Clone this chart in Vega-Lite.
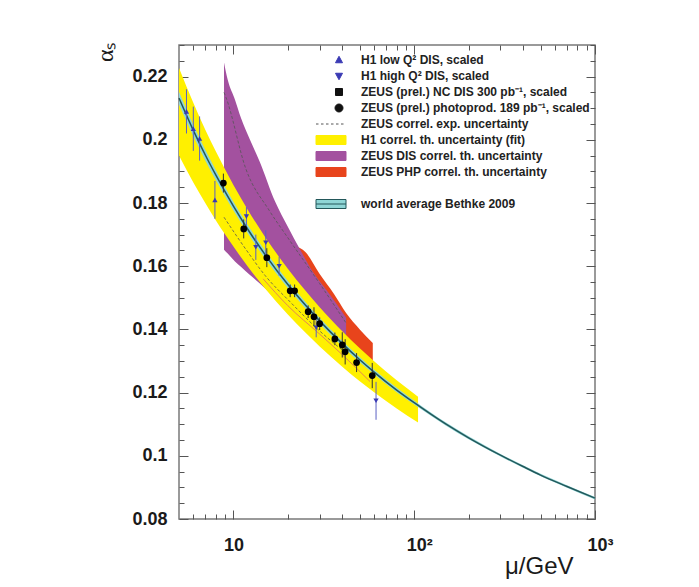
{
  "$schema": "https://vega.github.io/schema/vega-lite/v6.json",
  "width": 416,
  "height": 474,
  "autosize": {"type": "none"},
  "padding": {"left": 179, "top": 45, "right": 104, "bottom": 68},
  "background": "white",
  "config": {
    "view": {"stroke": "#7a7a7a", "strokeWidth": 1.5},
    "axis": {"domain": false, "grid": false, "tickColor": "#555555", "tickWidth": 1, "labelFont": "Liberation Sans", "labelFontWeight": "bold", "labelFontSize": 18, "labelColor": "#1a1a1a", "titleFontWeight": "normal", "titleColor": "#1a1a1a", "labelOverlap": false, "labelFlush": false, "labelBound": false}
  },
  "datasets": {
    "wa": [
      {"mu": 5, "a": 0.2152, "a2": 0.2112, "c": 0.2132},
      {"mu": 6, "a": 0.2048, "a2": 0.2012, "c": 0.2030},
      {"mu": 7, "a": 0.1968, "a2": 0.1934, "c": 0.1951},
      {"mu": 8, "a": 0.1904, "a2": 0.1872, "c": 0.1888},
      {"mu": 10, "a": 0.1804, "a2": 0.1776, "c": 0.1790},
      {"mu": 12, "a": 0.1730, "a2": 0.1704, "c": 0.1717},
      {"mu": 15, "a": 0.1648, "a2": 0.1624, "c": 0.1636},
      {"mu": 20, "a": 0.1553, "a2": 0.1531, "c": 0.1542},
      {"mu": 25, "a": 0.1487, "a2": 0.1467, "c": 0.1477},
      {"mu": 30, "a": 0.1436, "a2": 0.1418, "c": 0.1427},
      {"mu": 40, "a": 0.1363, "a2": 0.1347, "c": 0.1355},
      {"mu": 50, "a": 0.1312, "a2": 0.1296, "c": 0.1304},
      {"mu": 60, "a": 0.1272, "a2": 0.1258, "c": 0.1265},
      {"mu": 80, "a": 0.1215, "a2": 0.1201, "c": 0.1208},
      {"mu": 100, "a": 0.1174, "a2": 0.1162, "c": 0.1168},
      {"mu": 150, "a": 0.1105, "a2": 0.1095, "c": 0.1100},
      {"mu": 200, "a": 0.1062, "a2": 0.1052, "c": 0.1057},
      {"mu": 300, "a": 0.1006, "a2": 0.0998, "c": 0.1002},
      {"mu": 400, "a": 0.0970, "a2": 0.0962, "c": 0.0966},
      {"mu": 500, "a": 0.0943, "a2": 0.0935, "c": 0.0939},
      {"mu": 700, "a": 0.0907, "a2": 0.0899, "c": 0.0903},
      {"mu": 1000, "a": 0.0870, "a2": 0.0862, "c": 0.0866}
    ],
    "yellow": [
      {"mu": 5, "a": 0.2227, "a2": 0.1950},
      {"mu": 6, "a": 0.2117, "a2": 0.1865},
      {"mu": 7, "a": 0.2031, "a2": 0.1799},
      {"mu": 8, "a": 0.1963, "a2": 0.1745},
      {"mu": 9, "a": 0.1906, "a2": 0.1700},
      {"mu": 10, "a": 0.1857, "a2": 0.1662},
      {"mu": 12, "a": 0.1779, "a2": 0.1599},
      {"mu": 15, "a": 0.1692, "a2": 0.1529},
      {"mu": 20, "a": 0.1592, "a2": 0.1447},
      {"mu": 25, "a": 0.1523, "a2": 0.1390},
      {"mu": 30, "a": 0.1470, "a2": 0.1346},
      {"mu": 40, "a": 0.1394, "a2": 0.1282},
      {"mu": 50, "a": 0.1340, "a2": 0.1236},
      {"mu": 60, "a": 0.1299, "a2": 0.1201},
      {"mu": 80, "a": 0.1239, "a2": 0.1150},
      {"mu": 105, "a": 0.1187, "a2": 0.1105}
    ],
    "purple": [
      {"mu": 8.87, "a": 0.2245, "a2": 0.1652},
      {"mu": 9.3, "a": 0.2190, "a2": 0.1640},
      {"mu": 10.2, "a": 0.2127, "a2": 0.1615},
      {"mu": 11, "a": 0.2070, "a2": 0.1598},
      {"mu": 12.35, "a": 0.2000, "a2": 0.1572},
      {"mu": 14, "a": 0.1930, "a2": 0.1545},
      {"mu": 17, "a": 0.1805, "a2": 0.1500},
      {"mu": 20, "a": 0.1725, "a2": 0.1465},
      {"mu": 23.4, "a": 0.1652, "a2": 0.1430},
      {"mu": 28, "a": 0.1575, "a2": 0.1395},
      {"mu": 34.2, "a": 0.1510, "a2": 0.1360},
      {"mu": 42, "a": 0.1437, "a2": 0.1325}
    ],
    "red": [
      {"mu": 22, "a": 0.1665, "a2": 0.1500},
      {"mu": 25, "a": 0.1645, "a2": 0.1470},
      {"mu": 30, "a": 0.1575, "a2": 0.1410},
      {"mu": 36, "a": 0.1512, "a2": 0.1380},
      {"mu": 42, "a": 0.1452, "a2": 0.1360},
      {"mu": 50, "a": 0.1400, "a2": 0.1320},
      {"mu": 59, "a": 0.1357, "a2": 0.1290}
    ],
    "lines": [
      {"g": "up", "mu": 8.87, "a": 0.2150},
      {"g": "up", "mu": 9.1, "a": 0.2134},
      {"g": "up", "mu": 11.7, "a": 0.1909},
      {"g": "up", "mu": 15.8, "a": 0.1776},
      {"g": "up", "mu": 20, "a": 0.1690},
      {"g": "up", "mu": 30, "a": 0.1545},
      {"g": "up", "mu": 42, "a": 0.1420},
      {"g": "low", "mu": 8.87, "a": 0.1755},
      {"g": "low", "mu": 12, "a": 0.1645},
      {"g": "low", "mu": 15, "a": 0.1570},
      {"g": "low", "mu": 20.6, "a": 0.1487},
      {"g": "low", "mu": 30, "a": 0.1395},
      {"g": "low", "mu": 42, "a": 0.1325},
      {"g": "or", "mu": 14.6, "a": 0.1560},
      {"g": "or", "mu": 20, "a": 0.1475},
      {"g": "or", "mu": 30, "a": 0.1385},
      {"g": "or", "mu": 40, "a": 0.1320},
      {"g": "or", "mu": 57, "a": 0.1235}
    ],
    "h1": [
      {"q": "low", "mu": 5.5, "a": 0.2090, "lo": 0.2020, "hi": 0.2160},
      {"q": "low", "mu": 6.0, "a": 0.2035, "lo": 0.1965, "hi": 0.2105},
      {"q": "low", "mu": 6.5, "a": 0.2004, "lo": 0.1934, "hi": 0.2074},
      {"q": "low", "mu": 7.9, "a": 0.1810, "lo": 0.1750, "hi": 0.1870},
      {"q": "high", "mu": 11.8, "a": 0.1757, "lo": 0.1727, "hi": 0.1787},
      {"q": "high", "mu": 13.3, "a": 0.1660, "lo": 0.1620, "hi": 0.1700},
      {"q": "high", "mu": 15.1, "a": 0.1674, "lo": 0.1634, "hi": 0.1714},
      {"q": "high", "mu": 17.9, "a": 0.1600, "lo": 0.1570, "hi": 0.1630},
      {"q": "high", "mu": 28.7, "a": 0.1405, "lo": 0.1375, "hi": 0.1435},
      {"q": "high", "mu": 61.5, "a": 0.1174, "lo": 0.1114, "hi": 0.1234}
    ],
    "zeus": [
      {"mu": 8.8, "a": 0.1863, "lo": 0.1833, "hi": 0.1893},
      {"mu": 11.4, "a": 0.1718, "lo": 0.1688, "hi": 0.1748},
      {"mu": 15.3, "a": 0.1627, "lo": 0.1597, "hi": 0.1657},
      {"mu": 20.6, "a": 0.1522, "lo": 0.1502, "hi": 0.1542},
      {"mu": 21.8, "a": 0.1522, "lo": 0.1502, "hi": 0.1542},
      {"mu": 25.9, "a": 0.1456, "lo": 0.1436, "hi": 0.1476},
      {"mu": 27.9, "a": 0.1440, "lo": 0.1410, "hi": 0.1470},
      {"mu": 30.0, "a": 0.1418, "lo": 0.1398, "hi": 0.1438},
      {"mu": 36.4, "a": 0.1370, "lo": 0.1350, "hi": 0.1390},
      {"mu": 40.0, "a": 0.1351, "lo": 0.1311, "hi": 0.1391},
      {"mu": 41.5, "a": 0.1329, "lo": 0.1289, "hi": 0.1369},
      {"mu": 48.0, "a": 0.1295, "lo": 0.1265, "hi": 0.1325},
      {"mu": 58.6, "a": 0.1254, "lo": 0.1214, "hi": 0.1294}
    ],
    "legend": [
      {"entry": "H1 low Q² DIS, scaled"},
      {"entry": "H1 high Q² DIS, scaled"},
      {"entry": "ZEUS (prel.) NC DIS 300 pb⁻¹, scaled"},
      {"entry": "ZEUS (prel.) photoprod. 189 pb⁻¹, scaled"},
      {"entry": "ZEUS correl. exp. uncertainty"},
      {"entry": "H1 correl. th. uncertainty (fit)"},
      {"entry": "ZEUS DIS correl. th. uncertainty"},
      {"entry": "ZEUS PHP correl. th. uncertainty"},
      {"entry": " "},
      {"entry": "world average Bethke 2009"}
    ]
  },
  "layer": [
    {
      "data": {"name": "red"},
      "mark": {"type": "area", "color": "#e8441c", "interpolate": "monotone"},
      "encoding": {
        "x": {"field": "mu", "type": "quantitative", "scale": {"type": "log", "domain": [5, 1000], "nice": false},
          "axis": {"orient": "bottom", "values": [6, 7, 8, 9, 10, 20, 30, 40, 50, 60, 70, 80, 90, 100, 200, 300, 400, 500, 600, 700, 800, 900, 1000],
            "tickSize": {"condition": {"test": "datum.value == 10 || datum.value == 100 || datum.value == 1000", "value": -9}, "value": -5},
            "labelOffset": {"condition": {"test": "datum.value >= 100", "value": 5}, "value": 0},
            "labelExpr": "datum.value == 10 ? '10' : datum.value == 100 ? '10²' : datum.value == 1000 ? '10³' : ''",
            "labelPadding": 26, "title": "μ/GeV", "titleFont": "Liberation Sans", "titleFontSize": 24,
            "titleX": 394, "titleY": 54, "titleAlign": "right", "titleBaseline": "alphabetic"}},
        "y": {"field": "a", "type": "quantitative", "scale": {"domain": [0.08, 0.23], "nice": false, "zero": false},
          "axis": {"orient": "left", "values": [0.08, 0.085, 0.09, 0.095, 0.1, 0.105, 0.11, 0.115, 0.12, 0.125, 0.13, 0.135, 0.14, 0.145, 0.15, 0.155, 0.16, 0.165, 0.17, 0.175, 0.18, 0.185, 0.19, 0.195, 0.2, 0.205, 0.21, 0.215, 0.22, 0.225, 0.23],
            "tickSize": {"condition": {"test": "abs(datum.value*50 - round(datum.value*50)) < 0.001", "value": -9}, "value": -5},
            "labelExpr": "abs(datum.value*50 - round(datum.value*50)) < 0.001 ? format(datum.value, '.2~f') : ''",
            "labelPadding": 21, "title": "αₛ", "titleFont": "Liberation Serif", "titleFontSize": 24, "titleAngle": -90,
            "titleX": -67, "titleY": -3, "titleAlign": "right", "titleBaseline": "alphabetic"}},
        "y2": {"field": "a2"}
      }
    },
    {
      "data": {"name": "purple"},
      "mark": {"type": "area", "color": "#a3519f", "interpolate": "monotone"},
      "encoding": {
        "x": {"field": "mu", "type": "quantitative", "scale": {"type": "log", "domain": [5, 1000], "nice": false}, "axis": null},
        "y": {"field": "a", "type": "quantitative", "scale": {"domain": [0.08, 0.23], "nice": false, "zero": false}, "axis": null},
        "y2": {"field": "a2"}
      }
    },
    {
      "data": {"name": "yellow"},
      "mark": {"type": "area", "color": "#fff000", "interpolate": "monotone"},
      "encoding": {
        "x": {"field": "mu", "type": "quantitative", "scale": {"type": "log", "domain": [5, 1000], "nice": false}, "axis": null},
        "y": {"field": "a", "type": "quantitative", "scale": {"domain": [0.08, 0.23], "nice": false, "zero": false}, "axis": null},
        "y2": {"field": "a2"}
      }
    },
    {
      "data": {"name": "lines"},
      "transform": [{"filter": "datum.g != 'or'"}],
      "mark": {"type": "line", "color": "#555555", "strokeWidth": 0.8, "strokeDash": [3, 2], "interpolate": "monotone"},
      "encoding": {
        "x": {"field": "mu", "type": "quantitative", "scale": {"type": "log", "domain": [5, 1000], "nice": false}, "axis": null},
        "y": {"field": "a", "type": "quantitative", "scale": {"domain": [0.08, 0.23], "nice": false, "zero": false}, "axis": null},
        "detail": {"field": "g"}
      }
    },
    {
      "data": {"name": "lines"},
      "transform": [{"filter": "datum.g == 'or'"}],
      "mark": {"type": "line", "color": "#e07a5a", "strokeWidth": 0.9, "interpolate": "monotone"},
      "encoding": {
        "x": {"field": "mu", "type": "quantitative", "scale": {"type": "log", "domain": [5, 1000], "nice": false}, "axis": null},
        "y": {"field": "a", "type": "quantitative", "scale": {"domain": [0.08, 0.23], "nice": false, "zero": false}, "axis": null}
      }
    },
    {
      "data": {"name": "wa"},
      "mark": {"type": "area", "color": "#8fd6d6", "interpolate": "monotone"},
      "encoding": {
        "x": {"field": "mu", "type": "quantitative", "scale": {"type": "log", "domain": [5, 1000], "nice": false}, "axis": null},
        "y": {"field": "a", "type": "quantitative", "scale": {"domain": [0.08, 0.23], "nice": false, "zero": false}, "axis": null},
        "y2": {"field": "a2"}
      }
    },
    {
      "data": {"name": "wa"},
      "mark": {"type": "line", "color": "#23575a", "strokeWidth": 1.5, "interpolate": "monotone"},
      "encoding": {
        "x": {"field": "mu", "type": "quantitative", "scale": {"type": "log", "domain": [5, 1000], "nice": false}, "axis": null},
        "y": {"field": "c", "type": "quantitative", "scale": {"domain": [0.08, 0.23], "nice": false, "zero": false}, "axis": null}
      }
    },
    {
      "data": {"name": "h1"},
      "mark": {"type": "rule", "color": "#5a60c4", "strokeWidth": 1},
      "encoding": {
        "x": {"field": "mu", "type": "quantitative", "scale": {"type": "log", "domain": [5, 1000], "nice": false}, "axis": null},
        "y": {"field": "lo", "type": "quantitative", "scale": {"domain": [0.08, 0.23], "nice": false, "zero": false}, "axis": null},
        "y2": {"field": "hi"}
      }
    },
    {
      "data": {"name": "zeus"},
      "mark": {"type": "rule", "color": "#333333", "strokeWidth": 1},
      "encoding": {
        "x": {"field": "mu", "type": "quantitative", "scale": {"type": "log", "domain": [5, 1000], "nice": false}, "axis": null},
        "y": {"field": "lo", "type": "quantitative", "scale": {"domain": [0.08, 0.23], "nice": false, "zero": false}, "axis": null},
        "y2": {"field": "hi"}
      }
    },
    {
      "data": {"name": "h1"},
      "transform": [{"filter": "datum.q == 'low'"}],
      "mark": {"type": "point", "shape": "triangle-up", "filled": true, "color": "#3a3ab4", "size": 28, "opacity": 1},
      "encoding": {
        "x": {"field": "mu", "type": "quantitative", "scale": {"type": "log", "domain": [5, 1000], "nice": false}, "axis": null},
        "y": {"field": "a", "type": "quantitative", "scale": {"domain": [0.08, 0.23], "nice": false, "zero": false}, "axis": null}
      }
    },
    {
      "data": {"name": "h1"},
      "transform": [{"filter": "datum.q == 'high'"}],
      "mark": {"type": "point", "shape": "triangle-down", "filled": true, "color": "#3a3ab4", "size": 28, "opacity": 1},
      "encoding": {
        "x": {"field": "mu", "type": "quantitative", "scale": {"type": "log", "domain": [5, 1000], "nice": false}, "axis": null},
        "y": {"field": "a", "type": "quantitative", "scale": {"domain": [0.08, 0.23], "nice": false, "zero": false}, "axis": null}
      }
    },
    {
      "data": {"name": "legend"},
      "transform": [{"filter": "false"}],
      "mark": {"type": "point", "opacity": 1, "strokeWidth": 1},
      "encoding": {
        "shape": {"field": "entry", "type": "nominal",
          "scale": {"domain": ["H1 low Q² DIS, scaled", "H1 high Q² DIS, scaled", "ZEUS (prel.) NC DIS 300 pb⁻¹, scaled", "ZEUS (prel.) photoprod. 189 pb⁻¹, scaled", "ZEUS correl. exp. uncertainty", "H1 correl. th. uncertainty (fit)", "ZEUS DIS correl. th. uncertainty", "ZEUS PHP correl. th. uncertainty", " ", "world average Bethke 2009"],
            "range": ["M-3,-1M3,1M1.6,-0.75L2.3,0.55L0.9,0.55Z", "M-3,-1M3,1M0.9,-0.55L2.3,-0.55L1.6,0.75Z", "M-3,-1M3,1M0.9,-0.7H2.3V0.7H0.9Z", "M-3,-1M3,1M2.4,0A0.8,0.8,0,1,1,0.8,0A0.8,0.8,0,1,1,2.4,0Z", "M-3,-1M3,1M-3,0H-2.5M-2,0H-1.5M-1,0H-0.5M0,0H0.5M1,0H1.5M2,0H2.5", "M-3,-0.9H3V0.9H-3Z", "M-3,-0.9H3V0.9H-3Z", "M-3,-0.9H3V0.9H-3Z", "M-3,-1M3,1M0,0L0,0", "M-3,-0.9H3V0.9H-3ZM-3,0H3"]},
          "legend": {"orient": "none", "legendX": 146, "legendY": 9, "title": null, "padding": 0,
            "labelFont": "Liberation Sans", "labelFontWeight": "bold", "labelFontSize": 12, "labelColor": "#222222",
            "labelOffset": 24, "labelLimit": 400, "symbolSize": 100, "rowPadding": 2, "symbolStrokeWidth": 1}},
        "fill": {"field": "entry", "type": "nominal",
          "scale": {"domain": ["H1 low Q² DIS, scaled", "H1 high Q² DIS, scaled", "ZEUS (prel.) NC DIS 300 pb⁻¹, scaled", "ZEUS (prel.) photoprod. 189 pb⁻¹, scaled", "ZEUS correl. exp. uncertainty", "H1 correl. th. uncertainty (fit)", "ZEUS DIS correl. th. uncertainty", "ZEUS PHP correl. th. uncertainty", " ", "world average Bethke 2009"],
            "range": ["#3a3ab4", "#3a3ab4", "#111111", "#111111", "transparent", "#fff000", "#a3519f", "#e8441c", "transparent", "#8fd6d6"]},
          "legend": {"orient": "none", "legendX": 146, "legendY": 9, "title": null, "padding": 0,
            "labelFont": "Liberation Sans", "labelFontWeight": "bold", "labelFontSize": 12, "labelColor": "#222222",
            "labelOffset": 24, "labelLimit": 400, "symbolSize": 100, "rowPadding": 2, "symbolStrokeWidth": 1}},
        "stroke": {"field": "entry", "type": "nominal",
          "scale": {"domain": ["H1 low Q² DIS, scaled", "H1 high Q² DIS, scaled", "ZEUS (prel.) NC DIS 300 pb⁻¹, scaled", "ZEUS (prel.) photoprod. 189 pb⁻¹, scaled", "ZEUS correl. exp. uncertainty", "H1 correl. th. uncertainty (fit)", "ZEUS DIS correl. th. uncertainty", "ZEUS PHP correl. th. uncertainty", " ", "world average Bethke 2009"],
            "range": ["#3a3ab4", "#3a3ab4", "#111111", "#111111", "#555555", "#fff000", "#a3519f", "#e8441c", "transparent", "#23575a"]},
          "legend": {"orient": "none", "legendX": 146, "legendY": 9, "title": null, "padding": 0,
            "labelFont": "Liberation Sans", "labelFontWeight": "bold", "labelFontSize": 12, "labelColor": "#222222",
            "labelOffset": 24, "labelLimit": 400, "symbolSize": 100, "rowPadding": 2, "symbolStrokeWidth": 1}}
      }
    },
    {
      "data": {"name": "zeus"},
      "mark": {"type": "point", "shape": "circle", "filled": true, "color": "#000000", "size": 45, "opacity": 1},
      "encoding": {
        "x": {"field": "mu", "type": "quantitative", "scale": {"type": "log", "domain": [5, 1000], "nice": false},
          "axis": {"orient": "top", "values": [6, 7, 8, 9, 10, 20, 30, 40, 50, 60, 70, 80, 90, 100, 200, 300, 400, 500, 600, 700, 800, 900, 1000],
            "tickSize": {"condition": {"test": "datum.value == 10 || datum.value == 100 || datum.value == 1000", "value": -9}, "value": -5},
            "labels": false, "title": null}},
        "y": {"field": "a", "type": "quantitative", "scale": {"domain": [0.08, 0.23], "nice": false, "zero": false},
          "axis": {"orient": "right", "values": [0.08, 0.085, 0.09, 0.095, 0.1, 0.105, 0.11, 0.115, 0.12, 0.125, 0.13, 0.135, 0.14, 0.145, 0.15, 0.155, 0.16, 0.165, 0.17, 0.175, 0.18, 0.185, 0.19, 0.195, 0.2, 0.205, 0.21, 0.215, 0.22, 0.225, 0.23],
            "tickSize": {"condition": {"test": "abs(datum.value*50 - round(datum.value*50)) < 0.001", "value": -9}, "value": -5},
            "labels": false, "title": null}}
      }
    }
  ],
  "resolve": {"axis": {"x": "independent", "y": "independent"}}
}
